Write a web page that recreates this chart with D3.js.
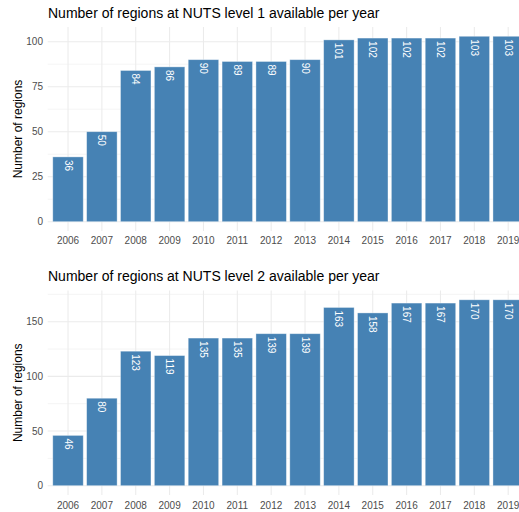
<!DOCTYPE html>
<html><head><meta charset="utf-8">
<script src="https://cdn.jsdelivr.net/npm/d3@7"></script>
<style>body{margin:0;background:#fff}svg{display:block}text{font-family:"Liberation Sans",Arial,sans-serif}</style>
</head><body><svg id="c" width="519" height="512"></svg>
<script>
const years = ["2006","2007","2008","2009","2010","2011","2012","2013","2014","2015","2016","2017","2018","2019"];
const nuts1 = [36,50,84,86,90,89,89,90,101,102,102,102,103,103];
const nuts2 = [46,80,123,119,135,135,139,139,163,158,167,167,170,170];
const ticks1 = [0,25,50,75,100];
const ticks2 = [0,50,100,150];
const titles = ["Number of regions at NUTS level 1 available per year","Number of regions at NUTS level 2 available per year"];
const yTitle = "Number of regions";

const svg = d3.select("#c");
const x = d3.scaleBand().domain(years).range([47.7, 528.5]).paddingInner(0.1).paddingOuter(0.15);

function panel(vals, ticks, title, y0, y1, dmax, titleY, xlabY) {
  const y = d3.scaleLinear().domain([0, dmax]).range([y0, y1]);
  const step = ticks[1]-ticks[0];
  const pBottom = y(-dmax/1.05*0.05);
  const g = svg.append("g");
  const minors = ticks.map(t => t + step/2).filter(t => y(t) >= y1 - 0.5);
  g.selectAll(".mn").data(minors).join("line")
    .attr("x1", 47.7).attr("x2", 528.5).attr("y1", d => y(d)).attr("y2", d => y(d))
    .attr("stroke", "#ebebeb").attr("stroke-width", 0.55);
  g.selectAll(".mj").data(ticks).join("line")
    .attr("x1", 47.7).attr("x2", 528.5).attr("y1", d => y(d)).attr("y2", d => y(d))
    .attr("stroke", "#ebebeb").attr("stroke-width", 1.07);
  g.selectAll(".vx").data(years).join("line")
    .attr("x1", d => x(d)+x.bandwidth()/2).attr("x2", d => x(d)+x.bandwidth()/2)
    .attr("y1", y1).attr("y2", pBottom)
    .attr("stroke", "#ebebeb").attr("stroke-width", 1.07);
  g.selectAll(".bar").data(vals).join("rect")
    .attr("x", (d,i) => x(years[i])).attr("width", x.bandwidth())
    .attr("y", d => y(d)).attr("height", d => y(0)-y(d))
    .attr("fill", "#4682b4").attr("stroke", "#ffffff").attr("stroke-opacity", 0.45).attr("stroke-width", 0.8);
  g.selectAll(".lbl").data(vals).join("text")
    .attr("transform", (d,i) => `translate(${x(years[i])+x.bandwidth()/2},${y(d)+3}) rotate(90)`)
    .attr("dy", "0.35em").attr("text-anchor", "start")
    .attr("fill", "#fff").attr("font-size", 10).text(d => d);
  g.selectAll(".yt").data(ticks).join("text")
    .attr("x", 43).attr("y", d => y(d)).attr("dy", "0.35em").attr("text-anchor", "end")
    .attr("fill", "#4d4d4d").attr("font-size", 10).text(d => d);
  g.selectAll(".xt").data(years).join("text")
    .attr("x", d => x(d)+x.bandwidth()/2).attr("y", xlabY).attr("dy", "0.35em").attr("text-anchor", "middle")
    .attr("fill", "#4d4d4d").attr("font-size", 10).text(d => d);
  g.append("text").attr("x", 48).attr("y", titleY).attr("font-size", 14).attr("fill", "#000").text(title);
  g.append("text").attr("transform", `translate(18,${(y1+pBottom)/2}) rotate(-90)`)
    .attr("dy", "0.35em").attr("text-anchor", "middle").attr("font-size", 12).attr("fill", "#000").text(yTitle);
}
panel(nuts1, ticks1, titles[0], 221.7, 27.0, 108.15, 18, 240.5);
panel(nuts2, ticks2, titles[1], 485.7, 290.5, 178.5, 281, 505);
</script></body></html>
